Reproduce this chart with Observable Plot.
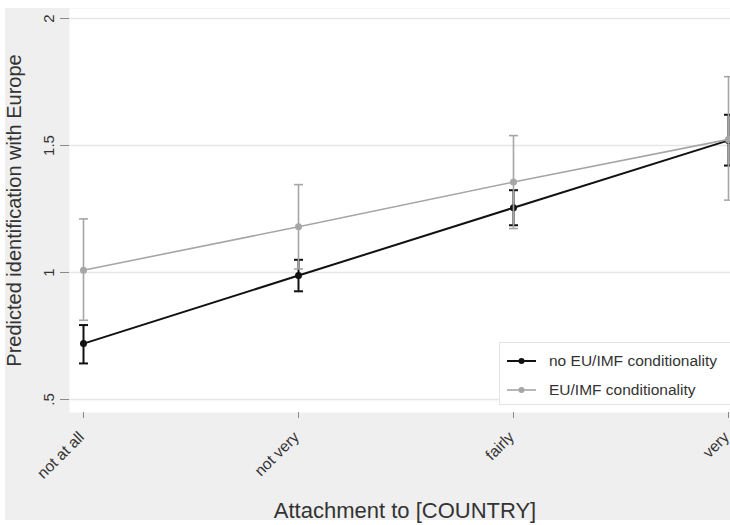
<!DOCTYPE html>
<html>
<head>
<meta charset="utf-8">
<script src="https://cdn.jsdelivr.net/npm/d3@7"></script>
<script src="https://cdn.jsdelivr.net/npm/@observablehq/plot@0.6"></script>
<style>
  html, body { margin: 0; padding: 0; background: #fff; }
  #wrap { position: relative; width: 730px; height: 525px; overflow: hidden; font-family: "Liberation Sans", Arial, sans-serif; }
  #bg { position: absolute; left: 5px; top: 8px; width: 725px; height: 512px; background: #efefef; }
  #chart { position: absolute; left: 0; top: 0; }
  #legend { position: absolute; left: 499px; top: 342px; width: 240px; height: 63px; background: #fff; border: 1px solid #e4e4e4; box-sizing: border-box; }
  .row { position: absolute; left: 0; height: 20px; display: flex; align-items: center; font-size: 15.5px; color: #333; }
  .row svg { margin-left: 7px; margin-right: 13px; }
</style>
</head>
<body>
<div id="wrap">
  <div id="bg"></div>
  <div id="chart"></div>
  <div id="legend"></div>
</div>
<script>
// ---- data ----
const categories = ["not at all", "not very", "fairly", "very"];
const seriesNames = ["no EU/IMF conditionality", "EU/IMF conditionality"];
const seriesColors = ["#111111", "#a6a6a6"];

const noCondMean = [0.720, 0.988, 1.255, 1.520];
const noCondLow  = [0.642, 0.926, 1.186, 1.421];
const noCondHigh = [0.793, 1.050, 1.324, 1.621];

const condMean = [1.009, 1.180, 1.356, 1.524];
const condLow  = [0.812, 1.014, 1.173, 1.285];
const condHigh = [1.211, 1.346, 1.539, 1.771];

const yTicks = [0.5, 1, 1.5, 2];
const yTickLabels = [".5", "1", "1.5", "2"];

const xTitle = "Attachment to [COUNTRY]";
const yTitle = "Predicted identification with Europe";

// ---- table ----
const rows = [];
categories.forEach((c, i) => {
  rows.push({cat: c, series: seriesNames[0], mean: noCondMean[i], lo: noCondLow[i], hi: noCondHigh[i]});
});
categories.forEach((c, i) => {
  rows.push({cat: c, series: seriesNames[1], mean: condMean[i], lo: condLow[i], hi: condHigh[i]});
});
const black = rows.filter(d => d.series === seriesNames[0]);
const gray = rows.filter(d => d.series === seriesNames[1]);

const capSymbol = { draw(ctx) { ctx.moveTo(-4.5, 0); ctx.lineTo(4.5, 0); } };

function seriesMarks(data, color, w, r) {
  return [
    Plot.ruleX(data, {x: "cat", y1: "lo", y2: "hi", stroke: color, strokeWidth: w}),
    Plot.dot(data, {x: "cat", y: "lo", symbol: capSymbol, stroke: color, fill: "none", strokeWidth: w}),
    Plot.dot(data, {x: "cat", y: "hi", symbol: capSymbol, stroke: color, fill: "none", strokeWidth: w}),
    Plot.line(data, {x: "cat", y: "mean", stroke: color, strokeWidth: w}),
    Plot.dot(data, {x: "cat", y: "mean", fill: color, r: r})
  ];
}

const chart = Plot.plot({
  width: 730,
  height: 525,
  marginLeft: 69,
  marginRight: 0,
  marginTop: 8,
  marginBottom: 113,
  style: {background: "transparent", fontFamily: "'Liberation Sans', Arial, sans-serif", color: "#333"},
  x: {type: "point", domain: categories, padding: 0, insetLeft: 13, insetRight: 1, axis: null},
  y: {domain: [0.5, 2], insetTop: 10, insetBottom: 13, axis: null},
  marks: [
    Plot.frame({fill: "white", stroke: null}),
    Plot.ruleY(yTicks, {stroke: "#e6e6e6", strokeWidth: 1.5}),
    Plot.axisY({ticks: yTicks, tickSize: 9, tickFormat: () => "", label: null, stroke: "#8a8a8a", line: true}),
    Plot.axisX({tickSize: 6, tickFormat: () => "", label: null, stroke: "#8a8a8a", line: true}),
    Plot.axisX({tickSize: 0, tickRotate: -45, tickPadding: 22, dx: -2, fontSize: 15.5, label: null, fill: "#333"}),
    Plot.text(yTicks, {y: d => d, text: (d, i) => yTickLabels[i], frameAnchor: "left", dx: -16, rotate: -90, textAnchor: "middle", lineAnchor: "bottom", fontSize: 15, fill: "#333"}),
    Plot.text([yTitle], {frameAnchor: "left", dx: -49, rotate: -90, textAnchor: "middle", lineAnchor: "bottom", fontSize: 20, fill: "#333"}),
    Plot.text([xTitle], {frameAnchor: "bottom", dx: 5, dy: 105, textAnchor: "middle", lineAnchor: "bottom", fontSize: 22, fill: "#333"}),
    ...seriesMarks(black, seriesColors[0], 2, 3.5),
    ...seriesMarks(gray, seriesColors[1], 1.6, 3.5)
  ]
});
document.getElementById("chart").appendChild(chart);

// ---- legend ----
const legend = document.getElementById("legend");
seriesNames.forEach((name, i) => {
  const row = document.createElement("div");
  row.className = "row";
  row.style.top = (i === 0 ? 8 : 37) + "px";
  row.innerHTML = `<svg width="29" height="10"><line x1="0" x2="29" y1="5" y2="5" stroke="${seriesColors[i]}" stroke-width="${i === 0 ? 2 : 1.6}"/><circle cx="14.5" cy="5" r="3" fill="${seriesColors[i]}"/></svg><span>${name}</span>`;
  legend.appendChild(row);
});
</script>
</body>
</html>
